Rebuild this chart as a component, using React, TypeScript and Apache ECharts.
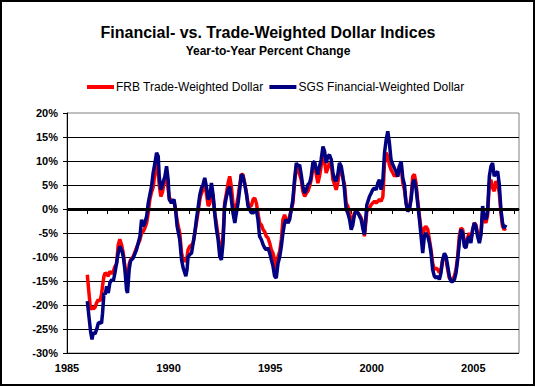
import React, { useEffect, useRef } from "react";
import * as echarts from "echarts";

const dates = [
  1986.0, 1986.07, 1986.16, 1986.23, 1986.29, 1986.38, 1986.46, 1986.54, 1986.62, 1986.7, 1986.75, 1986.82, 1986.88, 1986.95,
  1987.03, 1987.11, 1987.2, 1987.28, 1987.36, 1987.44, 1987.52, 1987.6, 1987.69, 1987.77, 1987.85, 1987.93, 1987.98,
  1988.06, 1988.13, 1988.26, 1988.42, 1988.59, 1988.67, 1988.75, 1988.83, 1988.92,
  1989.0, 1989.08, 1989.16, 1989.24, 1989.33, 1989.41, 1989.49, 1989.54, 1989.62, 1989.7, 1989.82, 1989.9, 1989.98,
  1990.03, 1990.14, 1990.27, 1990.36, 1990.42, 1990.55, 1990.64, 1990.72, 1990.85, 1990.91, 1990.96,
  1991.04, 1991.13, 1991.21, 1991.29, 1991.37, 1991.45, 1991.54, 1991.62, 1991.7, 1991.78, 1991.86, 1991.95,
  1992.03, 1992.11, 1992.19, 1992.27, 1992.35, 1992.44, 1992.52, 1992.6, 1992.68, 1992.76, 1992.85, 1992.93,
  1993.01, 1993.09, 1993.17, 1993.26, 1993.34, 1993.42, 1993.5, 1993.58, 1993.66, 1993.75, 1993.83, 1993.91, 1993.99,
  1994.07, 1994.16, 1994.24, 1994.32, 1994.4, 1994.48, 1994.57, 1994.65, 1994.73, 1994.81, 1994.89, 1994.98,
  1995.06, 1995.14, 1995.22, 1995.3, 1995.39, 1995.47, 1995.55, 1995.63, 1995.71, 1995.79, 1995.88, 1995.96,
  1996.04, 1996.12, 1996.2, 1996.29, 1996.37, 1996.45, 1996.53, 1996.61, 1996.7, 1996.78, 1996.86, 1996.94,
  1997.02, 1997.1, 1997.19, 1997.27, 1997.35, 1997.43, 1997.51, 1997.6, 1997.68, 1997.76, 1997.84, 1997.92,
  1998.01, 1998.09, 1998.17, 1998.25, 1998.33, 1998.41, 1998.5, 1998.58, 1998.66, 1998.74, 1998.82, 1998.91, 1998.99,
  1999.07, 1999.15, 1999.23, 1999.32, 1999.4, 1999.48, 1999.56, 1999.64, 1999.69, 1999.76, 1999.89, 1999.97,
  2000.05, 2000.14, 2000.22, 2000.3, 2000.38, 2000.46, 2000.55, 2000.63, 2000.71, 2000.79, 2000.87, 2000.95,
  2001.04, 2001.12, 2001.2, 2001.28, 2001.36, 2001.45, 2001.53, 2001.61, 2001.69, 2001.77, 2001.85, 2001.94,
  2002.02, 2002.1, 2002.18, 2002.26, 2002.35, 2002.43, 2002.51, 2002.59, 2002.67, 2002.76, 2002.84, 2002.92,
  2003.0, 2003.08, 2003.17, 2003.25, 2003.33, 2003.41, 2003.49, 2003.58, 2003.66, 2003.74, 2003.82, 2003.9, 2003.98,
  2004.07, 2004.15, 2004.23, 2004.31, 2004.39, 2004.48, 2004.56, 2004.64, 2004.72, 2004.8, 2004.88, 2004.97,
  2005.05, 2005.13, 2005.21, 2005.3, 2005.38, 2005.46, 2005.54, 2005.62, 2005.7, 2005.79, 2005.87, 2005.95,
  2006.03, 2006.11, 2006.2, 2006.28, 2006.36, 2006.44, 2006.52, 2006.6,
];

const frbValues = [
  -13.7, -17, -21, -20.3, -20.8, -20.5, -19.5, -18.9, -19.2, -17.8, -16, -14, -13.3, -13.5,
  -14, -13, -13.5, -13, -12, -11.5, -7.5, -6.3, -7.5, -9.2, -12, -14.7, -15.5,
  -11.5, -10.6, -9.9, -8.1, -6.4, -5, -4.7, -4, -2.9,
  -0.8, 2, 3.5, 4.5, 7.5, 10.3, 7.5, 5, 2.6, 3.5, 6.5, 7.5, 4,
  2.5, 1.6, 1.5, -0.5, -2.5, -5, -9.2, -10.6, -10.9, -10, -8.5,
  -7.8, -7.5, -7.1, -5, -2.9, -0.8, 2, 3.3, 4, 6.1, 3.3, 0.6,
  1.2, 4, 2.6, -0.8, -2.9, -5.7, -8.5, -8.5, -5.7, 1.25, 3.3, 5.4,
  6.8, 4.7, 1.25, -0.8, 0.6, 2.6, 5, 7.2, 7.2, 5.4, 3.3, 1.25, 0.6,
  0.6, 2, 2.3, 1.25, -0.8, -2.9, -3.3, -4.3, -4.7, -5.7, -6, -7.1,
  -8.5, -9.2, -10.6, -12.6, -9.9, -8.8, -6.4, -2.2, -1.2, -2.2, -2.9, -1.5,
  -0.1, 1.25, 5.4, 8.9, 8.2, 7.2, 6.1, 3.7, 2.6, 3.3, 3.7, 4.7,
  6.1, 8.5, 8.9, 7.2, 5.4, 6.8, 8.9, 11.3, 9.9, 7.5, 8.5, 9.6,
  9.2, 6.1, 5.1, 4, 5.4, 8.2, 7.8, 6.5, 5.1, 1.25, 0.6, -0.8, -2.9,
  -2.2, -0.8, -0.5, -0.8, -1.2, -1.9, -2.9, -5.7, -3.6, -0.5, 0.2, 0.9,
  1.25, 1.6, 1.25, 1.6, 2, 1.6, 2.6, 9.6, 11.7, 11, 9.2, 8.2,
  7.5, 6.8, 7.2, 6.8, 8.9, 8.9, 5.4, 4, 1.25, -0.1, -0.1, 2.6,
  6.8, 7.2, 5.4, 2, -1.5, -4.3, -6.4, -4, -3.6, -4.3, -6.4, -8.5,
  -11.25, -12.6, -12.3, -12.6, -13.3, -12.6, -10.6, -9.9, -10.6, -12.6, -14.4, -14.7, -14.7,
  -14, -12.6, -9.9, -5.7, -4, -4.3, -7.1, -7.8, -6, -5, -6.4, -4.3,
  -2.9, -3.3, -5, -6.4, -5, -0.8, -2.2, -2.9, -1.5, 5.4, 6.1, 4.4,
  3.7, 5.8, 5.1, 3.3, -0.8, -3.6, -4.3, -4,
];

const sgsValues = [
  -19.2, -22, -25.5, -27.2, -25.8, -26, -25.1, -23.8, -23.6, -23.8, -21.7, -17.5, -17.8, -16.1,
  -17.5, -15.4, -14.7, -15, -13.3, -11.25, -9.2, -7.8, -8.5, -9.9, -12.6, -16.8, -17.5,
  -12.6, -10.8, -10.2, -8.5, -5.7, -2.2, -3.6, -2.9, -1.5,
  1.25, 3, 4.7, 7.5, 9.6, 11.7, 11, 6.8, 4, 5.1, 6.8, 8.9, 6.1,
  2, 1.25, 2, -0.8, -3.6, -6.4, -10.6, -12.3, -14, -12.6, -9.9,
  -9.5, -9.2, -7.1, -5, -2.2, 0.2, 3, 4.4, 5.1, 6.5, 4.7, 2,
  2.6, 5.4, 3, -0.8, -4, -6.4, -9.9, -10.6, -7.1, 0.6, 2.6, 4,
  4.7, 2, -0.8, -2.9, -0.8, 1.25, 4, 7.2, 6.8, 5.1, 3.3, 0.6, -0.1,
  -0.8, -0.8, -0.5, -0.1, -2.2, -5.7, -6.4, -7.4, -8.1, -8.5, -8.1, -9.2,
  -10.6, -11.9, -14, -14.4, -11.25, -10, -7.8, -5, -2.9, -2.2, -2.9, -2.2,
  -0.1, 2, 6.1, 9.6, 8.9, 9.2, 7.2, 4.7, 3.3, 4, 5.1, 5.4,
  6.8, 9.6, 9.9, 8.2, 7.2, 8.9, 10.3, 13, 12, 9.6, 11, 11.3,
  10.3, 7.5, 6.1, 5.8, 7.2, 9.6, 8.9, 6.8, 4, -0.1, -0.8, -2.2, -4.3,
  -3.3, -1.2, -0.5, -0.8, -1.5, -2.2, -4, -5.3, -2.9, 0.9, 2.6, 3.3,
  4, 4.4, 4, 5.4, 6.1, 4, 6.1, 11.7, 14.4, 16.2, 13.75, 10.3,
  9.2, 8.5, 7.8, 6.8, 8.9, 9.9, 6.5, 5.1, 1.25, -0.5, -0.1, 2,
  5.4, 6.1, 4.4, 1.25, -2.2, -5.7, -9.2, -5.7, -5, -5.7, -7.1, -9.2,
  -12.6, -14, -14.4, -14, -14.7, -13.3, -10.6, -9.2, -9.9, -11.9, -14, -15.1, -15.1,
  -14.7, -13.3, -10.6, -7.1, -4.3, -5, -7.8, -8.1, -6.4, -5.7, -7.1, -4.3,
  -2.9, -3.6, -5.7, -7.1, -5.3, 0.6, -1.5, -2.2, -0.8, 6.8, 8.9, 9.6,
  6.8, 7.5, 7.8, 5.1, -0.1, -2.9, -4, -3.3,
];

const seriesNames = ["FRB Trade-Weighted Dollar", "SGS Financial-Weighted Dollar"];
const yTicks = { min: -30, max: 20, step: 5 };
const xRange = { min: 1985, max: 2007.25, step: 1, labelEvery: 5 };
const titleText = "Financial- vs. Trade-Weighted Dollar Indices";
const subtitleText = "Year-to-Year Percent Change";

const FONT = 'Arial, "Liberation Sans", sans-serif';

export default function App() {
  const ref = useRef<HTMLDivElement>(null);

  useEffect(() => {
    document.body.style.margin = "0";
    if (!ref.current) return;
    const chart = echarts.init(ref.current, null, { renderer: "svg" });
    const frb = dates.map((d, i) => [d, frbValues[i]]);
    const sgs = dates.map((d, i) => [d, sgsValues[i]]);
    chart.setOption({
      animation: false,
      backgroundColor: "#ffffff",
      title: [
        {
          text: titleText,
          left: "center",
          top: 19,
          textStyle: { fontFamily: FONT, fontSize: 16, fontWeight: "bold", color: "#000" },
        },
        {
          text: subtitleText,
          left: "center",
          top: 40,
          textStyle: { fontFamily: FONT, fontSize: 12, fontWeight: "bold", color: "#000" },
        },
      ],
      legend: {
        data: seriesNames,
        left: 82,
        top: 76,
        icon: "rect",
        itemWidth: 27,
        itemHeight: 4,
        itemGap: 6,
        textStyle: { fontFamily: FONT, fontSize: 12, color: "#000", padding: [0, 0, 0, -3] },
      },
      graphic: [
        {
          type: "rect",
          shape: { x: 1, y: 1, width: 533, height: 384 },
          style: { fill: "none", stroke: "#000", lineWidth: 2 },
          silent: true,
          z: 100,
        },
      ],
      grid: {
        left: 67,
        right: 17,
        top: 113,
        bottom: 34,
        show: true,
        borderColor: "#808080",
        borderWidth: 1,
        backgroundColor: "transparent",
      },
      xAxis: {
        type: "value",
        min: xRange.min,
        max: xRange.max,
        interval: xRange.step,
        axisLine: { show: true, lineStyle: { color: "#000", width: 1 } },
        axisTick: { show: true, length: 5, lineStyle: { color: "#000" } },
        splitLine: { show: false },
        axisLabel: {
          margin: 9,
          fontFamily: FONT,
          fontSize: 11,
          fontWeight: "bold",
          color: "#000",
          showMaxLabel: false,
          formatter: (v: number) => (Math.abs(v % xRange.labelEvery) < 1e-6 ? String(v) : ""),
        },
      },
      yAxis: {
        type: "value",
        min: yTicks.min,
        max: yTicks.max,
        interval: yTicks.step,
        axisLine: { show: true, lineStyle: { color: "#000", width: 1 } },
        axisTick: { show: true, length: 4, lineStyle: { color: "#000" } },
        splitLine: { show: true, showMaxLine: false, lineStyle: { color: "#000", width: 1 } },
        axisLabel: {
          margin: 9,
          fontFamily: FONT,
          fontSize: 11,
          fontWeight: "bold",
          color: "#000",
          formatter: (v: number) => `${v}%`,
        },
      },
      series: [
        {
          name: seriesNames[0],
          type: "line",
          data: frb,
          showSymbol: false,
          symbol: "none",
          lineStyle: { color: "#FF0000", width: 3.5 },
          itemStyle: { color: "#FF0000" },
          markLine: {
            silent: true,
            symbol: "none",
            label: { show: false },
            lineStyle: { color: "#000", width: 3, type: "solid" },
            data: [{ yAxis: 0 }],
          },
        },
        {
          name: seriesNames[1],
          type: "line",
          data: sgs,
          showSymbol: false,
          symbol: "none",
          lineStyle: { color: "#000080", width: 3.5 },
          itemStyle: { color: "#000080" },
        },
      ],
    });
    return () => chart.dispose();
  }, []);

  return (
    <div
      ref={ref}
      style={{ position: "absolute", left: 0, top: 0, width: 536, height: 387 }}
    />
  );
}
